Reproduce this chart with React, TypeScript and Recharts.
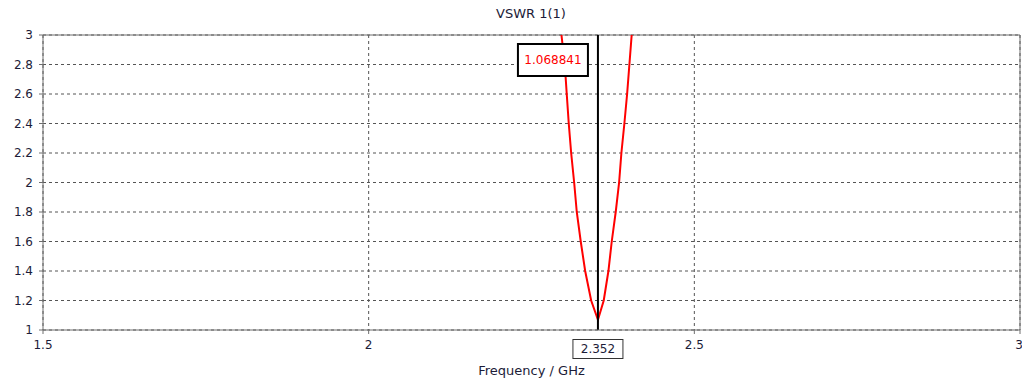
import React from "react";
import { LineChart, Line, XAxis, YAxis, CartesianGrid, ReferenceLine } from "recharts";

// VSWR trace (GHz / VSWR)
const freqGHz = [
  2.296, 2.3011, 2.3041, 2.3072, 2.3109, 2.3155, 2.3195, 2.3256, 2.3324, 2.3416, 2.352,
  2.3609, 2.3681, 2.3732, 2.3793, 2.3845, 2.388, 2.3926, 2.3968, 2.4003, 2.4038,
];
const vswr = [
  3.0, 2.8, 2.6, 2.4, 2.2, 2.0, 1.8, 1.6, 1.4, 1.2, 1.068841,
  1.2, 1.4, 1.6, 1.8, 2.0, 2.2, 2.4, 2.6, 2.8, 3.0,
];
const xTicks = [1.5, 2, 2.5, 3];
const yTicks = [1, 1.2, 1.4, 1.6, 1.8, 2, 2.2, 2.4, 2.6, 2.8, 3];
const markerFreq = 2.352;
const markerValue = "1.068841";

const data = freqGHz.map((f, i) => ({ f, v: vswr[i] }));

const FONT = "'DejaVu Sans', Tahoma, sans-serif";
const TEXT = "#1c1c38";
const AXIS = "#6e6e6e";

/**
 * Draws the marker value box (top) and frequency box (under the axis)
 */
const MarkerLabel = (props: any) => {
  const { x, y, height } = props.viewBox || {};
  if (x == null) return null;
  const bottom = y + height;
  return (
    <g>
      <rect x={x - 80} y={y + 9} width={70} height={32} fill="#fff" stroke="#000" strokeWidth={2} />
      <text x={x - 45} y={y + 25} fill="#ff0000" fontSize={12} fontFamily={FONT} textAnchor="middle" dominantBaseline="central">
        {markerValue}
      </text>
      <rect x={x - 25} y={bottom + 9.5} width={50} height={19} fill="#fff" stroke="#333" strokeWidth={1} />
      <text x={x} y={bottom + 19} fill={TEXT} fontSize={12} fontFamily={FONT} textAnchor="middle" dominantBaseline="central">
        {String(markerFreq)}
      </text>
    </g>
  );
};

export default function App() {
  return (
    <div style={{ position: "absolute", left: 0, top: 0, width: 1022, height: 378, background: "#fff", fontFamily: FONT }}>
      <div
        style={{
          position: "absolute",
          left: 531,
          top: 6,
          transform: "translateX(-50%)",
          fontSize: 13,
          color: TEXT,
          whiteSpace: "nowrap",
        }}
      >
        VSWR 1(1)
      </div>
      <LineChart width={1022} height={378} data={data} margin={{ top: 35, right: 2, left: 0, bottom: 0 }}>
        <CartesianGrid stroke="#555" strokeDasharray="3 3" />
        <XAxis
          dataKey="f"
          type="number"
          domain={[1.5, 3]}
          ticks={xTicks}
          allowDataOverflow
          height={48}
          tickSize={4}
          tickMargin={6}
          stroke={AXIS}
          tick={{ fill: TEXT, fontSize: 12, fontFamily: FONT }}
          label={{ value: "Frequency / GHz", position: "insideBottom", offset: 3, fill: TEXT, fontSize: 13, fontFamily: FONT }}
        />
        <YAxis
          type="number"
          domain={[1, 3]}
          ticks={yTicks}
          allowDataOverflow
          width={43}
          tickSize={4}
          tickMargin={6}
          stroke={AXIS}
          tick={{ fill: TEXT, fontSize: 12, fontFamily: FONT }}
        />
        <ReferenceLine y={3} stroke={AXIS} />
        <ReferenceLine x={3} stroke={AXIS} />
        <Line dataKey="v" type="linear" stroke="#ff0000" strokeWidth={2} dot={false} isAnimationActive={false} />
        <ReferenceLine x={markerFreq} stroke="#000" strokeWidth={2} label={<MarkerLabel />} />
      </LineChart>
    </div>
  );
}
